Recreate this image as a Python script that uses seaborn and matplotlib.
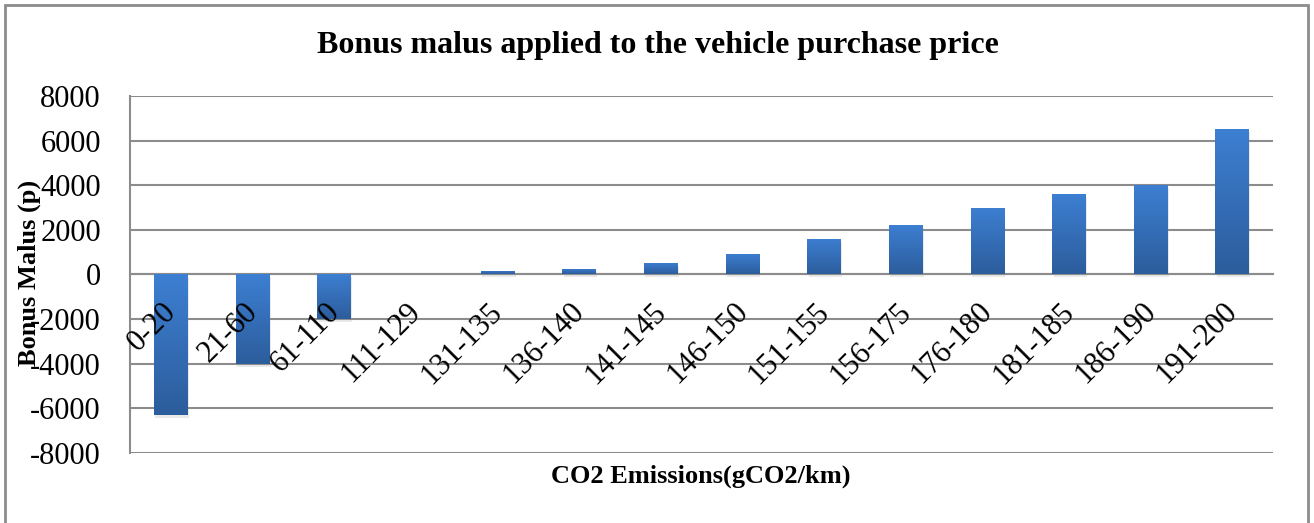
import numpy as np
import pandas as pd
import matplotlib
matplotlib.use("Agg")
import matplotlib.pyplot as plt
import seaborn as sns
from matplotlib.colors import LinearSegmentedColormap
from matplotlib.patches import Rectangle
import matplotlib.transforms as mtransforms
import matplotlib.patheffects as pe

categories = ["0-20", "21-60", "61-110", "111-129", "131-135", "136-140", "141-145",
              "146-150", "151-155", "156-175", "176-180", "181-185", "186-190", "191-200"]
values = [-6300, -4000, -2000, 0, 150, 250, 500, 900, 1600, 2200, 3000, 3600, 4000, 6500]
yticks = [-8000, -6000, -4000, -2000, 0, 2000, 4000, 6000, 8000]

title = "Bonus malus applied to the vehicle purchase price"
xlabel = "CO2 Emissions(gCO2/km)"
ylabel = "Bonus Malus (p)"

sns.set_style("white")
plt.rcParams['font.family'] = ['Liberation Serif', 'DejaVu Serif']
plt.rcParams['text.color'] = 'black'
plt.rcParams['xtick.color'] = 'black'
plt.rcParams['ytick.color'] = 'black'

df = pd.DataFrame({"cat": categories, "val": values})

W, H = 1314, 523
fig = plt.figure(figsize=(W / 100, H / 100), dpi=100)
ax = fig.add_axes([130 / W, 1 - 453 / H, (1273 - 130) / W, (453 - 96) / H])

sns.barplot(data=df, x="cat", y="val", color="#3570BD", width=0.41, ax=ax,
            saturation=1, edgecolor="none", zorder=3)

cmap = LinearSegmentedColormap.from_list("g", ["#2C5D9C", "#3D7FD2"])
grad = np.linspace(0, 1, 256).reshape(-1, 1)
for p in ax.patches:
    x0 = p.get_x()
    w = p.get_width()
    y = p.get_y()
    h = p.get_height()
    if h == 0:
        continue
    p.set_path_effects([pe.SimplePatchShadow(offset=(1, -2), shadow_rgbFace="#9A9A9A", alpha=0.2),
                        pe.Normal()])
    ylo, yhi = min(y, y + h), max(y, y + h)
    im = ax.imshow(grad, extent=[x0, x0 + w, ylo, yhi], origin="lower",
                   aspect="auto", cmap=cmap, zorder=4)
    im.set_clip_path(p)

ax.set_xlim(-0.5, len(categories) - 0.5)
ax.set_ylim(-8000, 8000)
ax.set_yticks(yticks)
ax.set_yticklabels([str(v) for v in yticks])
ax.yaxis.grid(True, color="#8C8C8C", linewidth=1.5)
ax.set_axisbelow(True)
ax.xaxis.set_zorder(6)

for s in ["top", "right"]:
    ax.spines[s].set_visible(False)
ax.spines["left"].set_color("#8C8C8C")
ax.spines["left"].set_linewidth(1.5)
ax.spines["bottom"].set_position(("data", 0))
ax.spines["bottom"].set_color("#8C8C8C")
ax.spines["bottom"].set_linewidth(1.5)

ax.set_xticks(np.arange(-0.5, len(categories)), minor=True)
ax.tick_params(axis="x", which="minor", length=8, width=1.5, color="#8C8C8C", direction="out")
ax.tick_params(axis="x", which="major", length=0, pad=0, labelsize=22)
ax.tick_params(axis="y", length=10, width=1.5, color="#8C8C8C", direction="out", pad=11,
               labelsize=22, labelcolor="black")

ax.set_xlabel("")
ax.set_ylabel("")
offset = mtransforms.ScaledTranslation(1 / 100, -33 / 100, fig.dpi_scale_trans)
for lbl in ax.get_xticklabels():
    lbl.set_rotation(45)
    lbl.set_ha("right")
    lbl.set_va("center")
    lbl.set_rotation_mode("anchor")
    lbl.set_color("black")
    lbl.set_transform(lbl.get_transform() + offset)

fig.text(658 / W, 1 - 46 / H, title, ha="center", va="center", fontsize=23, fontweight="bold")
fig.text(701 / W, 1 - 476 / H, xlabel, ha="center", va="center", fontsize=19, fontweight="bold")
fig.text(29 / W, 1 - 273 / H, ylabel, ha="center", va="center", rotation=90,
         fontsize=19, fontweight="bold")

fig.patches.append(Rectangle((5 / W, -0.05), (1308 - 5) / W, 1.05 - 5 / H,
                             transform=fig.transFigure, fill=False,
                             edgecolor="#8C8C8C", linewidth=2))

fig.savefig("out.png", dpi=100)
